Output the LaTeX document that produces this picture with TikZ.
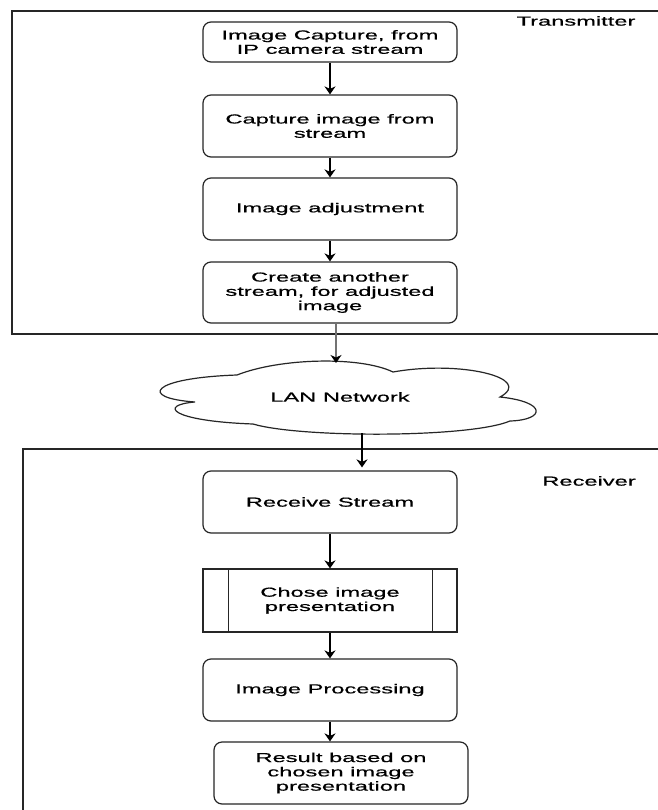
\documentclass[tikz,border=0pt]{standalone}
\usepackage{fontspec}
\setmainfont{Liberation Sans}[FakeStretch=1.82,FakeBold=0.6]
\usetikzlibrary{arrows.meta,calc}
\begin{document}
\begin{tikzpicture}[x=1pt,y=-1pt,
  every node/.style={font=\fontsize{13}{14.3}\selectfont, text=black, align=center},
  rbox/.style={draw=black!85, line width=1.2pt, rounded corners=8pt, minimum width=254pt, inner sep=0pt},
  pbox/.style={draw=black!85, line width=1.2pt, minimum width=254pt, inner sep=0pt},
  frame/.style={draw=black!85, line width=1.5pt},
  arr/.style={draw=black, line width=1.2pt, -{Stealth[length=8pt,width=11pt,inset=2.5pt]}},
  garr/.style={draw=black!55, line width=2.2pt, -{Stealth[length=8pt,width=11pt,inset=2.5pt,color=black]}},
  lbl/.style={font=\fontsize{13}{14.3}\selectfont}
]
\useasboundingbox (0,0) rectangle (657,810);
\fill[white] (0,0) rectangle (657,810);

% frames
\draw[frame] (670,11) -- (12,11) -- (12,334) -- (670,334);
\draw[frame] (670,449) -- (23,449) -- (23,820);

\node[lbl, anchor=center] (tx) at (576,21) {Transmitter};
\node[lbl, anchor=center] (rx) at (589,481) {Receiver};

% transmitter boxes
\node[rbox, minimum height=40pt] (b1) at (330,42) {Image Capture, from\\IP camera stream};
\node[rbox, minimum height=62pt] (b2) at (330,126) {Capture image from\\stream};
\node[rbox, minimum height=62pt] (b3) at (330,209) {Image adjustment};
\node[rbox, minimum height=61pt] (b4) at (330,292.5) {Create another\\stream, for adjusted\\image};

% cloud
\draw[draw=black!85, line width=1.2pt, fill=white]
  (237,375) .. controls (280,358) and (360,356) .. (393,372)
  .. controls (460,360) and (535,378) .. (500,397)
  .. controls (548,402) and (545,420) .. (510,421)
  .. controls (470,438) and (300,438) .. (253,424)
  .. controls (170,421) and (158,405) .. (195,402)
  .. controls (138,398) and (150,378) .. (237,375) -- cycle;
\node (lan) at (340,397) {LAN Network};
\coordinate (ct) at (336,363);
\coordinate (cb) at (362,433);

% receiver boxes
\node[rbox, minimum height=62pt] (r1) at (330,502) {Receive Stream};
\node[pbox, minimum height=63pt] (r2) at (330,600.5) {Chose image\\presentation};
\draw[draw=black!85, line width=1.2pt] ($(r2.north west)+(26,0)$) -- ($(r2.south west)+(26,0)$);
\draw[draw=black!85, line width=1.2pt] ($(r2.north east)+(-25,0)$) -- ($(r2.south east)+(-25,0)$);
\node[rbox, minimum height=62pt] (r3) at (330,690) {Image Processing};
\node[rbox, minimum height=62pt] (r4) at (341,773) {Result based on\\chosen image\\presentation};

% arrows
\draw[arr] (b1) -- (b2);
\draw[arr] (b2) -- (b3);
\draw[arr] (b3) -- (b4);
\draw[garr] (b4.south -| ct) -- (ct);
\draw[arr] (cb) -- ($(cb |- r1.north)+(0,-3)$);
\draw[arr] (r1) -- (r2);
\draw[arr] (r2) -- (r3);
\draw[arr] (r3.south) -- (r3.south |- r4.north);
\end{tikzpicture}
\end{document}
